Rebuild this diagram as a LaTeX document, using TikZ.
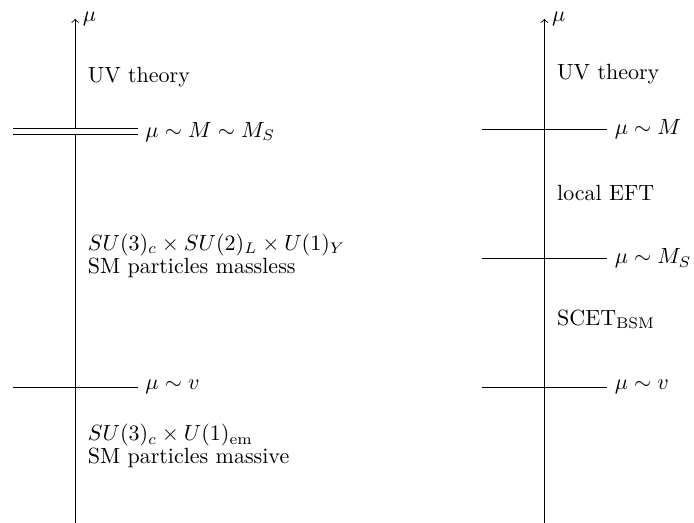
\documentclass[tikz,border=0pt]{standalone}
\usetikzlibrary{positioning}

\begin{document}
\begin{tikzpicture}[
  axis/.style={->},
  thresh/.style={line width=0.4pt},
  threshtwo/.style={double, double distance=2.3pt},
  regime/.style={anchor=west, align=left},
  scalelbl/.style={right},
]
\useasboundingbox (-1.2,0) rectangle (9.89,8.35);

%% =========================================================
%% Left: SM embedded in the UV theory
%% =========================================================
\coordinate (Lbot) at (0,0);
\coordinate (Ltop) at (0,8.05);
\draw[axis] (Lbot) -- (Ltop) node[right] (Lmu) {$\mu$};

\coordinate (LMa) at (-1,6.245);
\coordinate (LMb) at (1,6.245);
\draw[threshtwo] (LMa) -- (LMb) node[scalelbl] (LMlbl) {$\mu\sim M\sim M_S$};

\coordinate (Lva) at (-1,2.16);
\coordinate (Lvb) at (1,2.16);
\draw[thresh] (Lva) -- (Lvb) node[scalelbl] (Lvlbl) {$\mu\sim v$};

\node[regime] (Luv) at (0.08,7.12) {UV theory};
\node[regime] (Lsym) at (0.08,4.26)
  {$SU(3)_c\times SU(2)_L\times U(1)_Y$\\[-1.6pt] SM particles massless};
\node[regime] (Lbrk) at (0.08,1.22)
  {$SU(3)_c\times U(1)_{\mathrm{em}}$\\[-1.6pt] SM particles massive};

%% =========================================================
%% Right: separated scales M and M_S
%% =========================================================
\coordinate (Rbot) at (7.5,0);
\coordinate (Rtop) at (7.5,8.05);
\draw[axis] (Rbot) -- (Rtop) node[right] (Rmu) {$\mu$};

\coordinate (RMa) at (6.5,6.28);
\coordinate (RMb) at (8.5,6.28);
\draw[thresh] (RMa) -- (RMb) node[scalelbl] (RMlbl) {$\mu\sim M$};

\coordinate (RSa) at (6.5,4.22);
\coordinate (RSb) at (8.5,4.22);
\draw[thresh] (RSa) -- (RSb) node[scalelbl] (RSlbl) {$\mu\sim M_S$};

\coordinate (Rva) at (6.5,2.16);
\coordinate (Rvb) at (8.5,2.16);
\draw[thresh] (Rva) -- (Rvb) node[scalelbl] (Rvlbl) {$\mu\sim v$};

\node[regime] (Ruv) at (7.58,7.16) {UV theory};
\node[regime] (Rloc) at (7.58,5.26) {local EFT};
\node[regime] (Rscet) at (7.58,3.25) {SCET$_{\mathrm{BSM}}$};

\end{tikzpicture}
\end{document}
